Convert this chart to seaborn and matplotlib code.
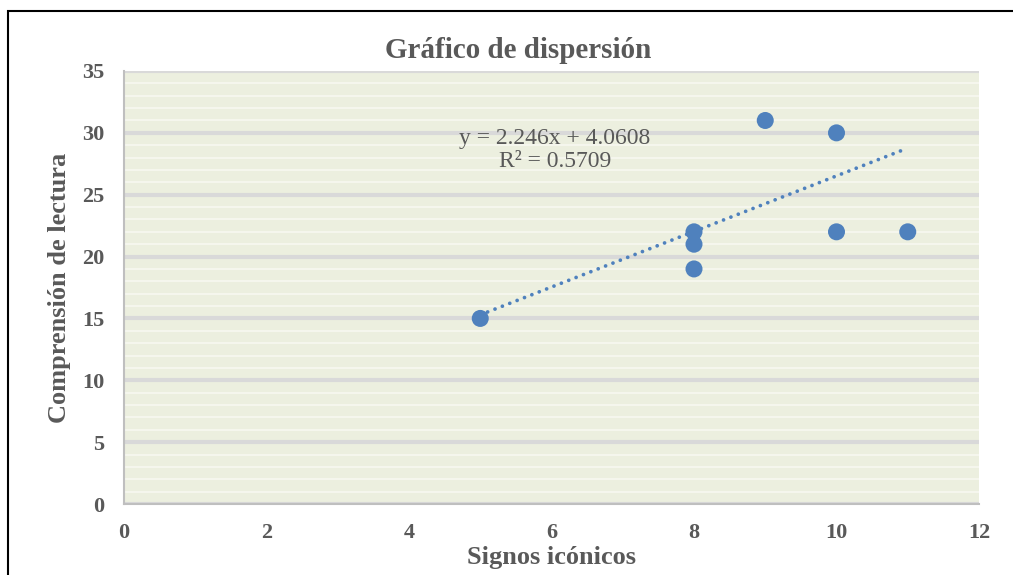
import numpy as np
import pandas as pd
import matplotlib.pyplot as plt
import matplotlib.patches as mpatches
from matplotlib.ticker import MultipleLocator
import seaborn as sns

# datos
signos = [5, 8, 8, 8, 9, 10, 10, 11]
comprension = [15, 22, 21, 19, 31, 30, 22, 22]
pendiente = 2.246
intercepto = 4.0608
r2 = 0.5709
x_ticks = [0, 2, 4, 6, 8, 10, 12]
y_ticks = [0, 5, 10, 15, 20, 25, 30, 35]

df = pd.DataFrame({'Signos icónicos': signos, 'Comprensión de lectura': comprension})

sns.set_style('white')
plt.rcParams['font.family'] = ['Liberation Serif', 'DejaVu Serif']

gris = '#595959'
azul = '#4F81BD'

fig = plt.figure(figsize=(10.13, 5.75), dpi=100)
ax = fig.add_axes([124 / 1013, 1 - 504 / 575, (979 - 124) / 1013, (504 - 71) / 575])

# marco del grafico
fig.patches.append(mpatches.Rectangle((8 / 1013, -0.05), 1.2, 1 - 11 / 575 + 0.05,
                                      transform=fig.transFigure, fill=False,
                                      edgecolor='black', linewidth=1.5))

ax.set_facecolor('#ECEFDF')
ax.set_xlim(0, 12)
ax.set_ylim(0, 35)
ax.set_xticks(x_ticks)
ax.set_yticks(y_ticks)
ax.yaxis.set_minor_locator(MultipleLocator(1))
ax.grid(which='minor', axis='y', color='#F7F8F0', linewidth=1.2, zorder=0)
ax.grid(which='major', axis='y', color='#D9D9D9', linewidth=3, zorder=0)
ax.grid(which='major', axis='x', visible=False)
ax.set_axisbelow(True)

for s in ['top', 'right']:
    ax.spines[s].set_visible(False)
for s in ['left', 'bottom']:
    ax.spines[s].set_color('#BFBFBF')
    ax.spines[s].set_linewidth(1.5)

ax.tick_params(axis='both', which='major', direction='out', length=6, width=1.2,
               color='#BFBFBF', labelcolor=gris, labelsize=16)
ax.tick_params(axis='x', which='major', pad=8)
ax.tick_params(axis='y', which='major', pad=8)
ax.tick_params(axis='y', which='minor', length=0)
for lbl in ax.get_xticklabels() + ax.get_yticklabels():
    lbl.set_fontweight('bold')

# linea de tendencia
tx = np.array([min(signos), max(signos)])
ax.plot(tx, pendiente * tx + intercepto, linestyle=(0, (0.01, 2.1)), color=azul,
        linewidth=2.7, dash_capstyle='round', zorder=2)

sns.scatterplot(data=df, x='Signos icónicos', y='Comprensión de lectura', ax=ax,
                color=azul, s=150, edgecolor='none', zorder=3)

ax.text(6.05, 28.6, f'y = {pendiente}x + {intercepto}\nR² = {r2}', ha='center',
        va='center', fontsize=17, color=gris, linespacing=1.15)

ax.set_xlabel('Signos icónicos', fontsize=19, fontweight='bold', color=gris, labelpad=2)
ax.set_ylabel('Comprensión de lectura', fontsize=19, fontweight='bold', color=gris, labelpad=8)
ax.set_title('Gráfico de dispersión', fontsize=21, fontweight='bold', color=gris,
             x=(518 - 124) / 855, pad=9)

fig.savefig('out.png', dpi=100)
